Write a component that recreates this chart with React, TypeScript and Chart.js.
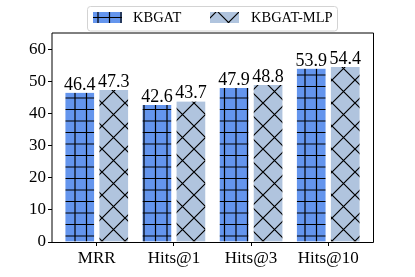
import { useEffect, useRef } from 'react';
import { Chart, registerables } from 'chart.js';

Chart.register(...registerables);

const categories = ['MRR', 'Hits@1', 'Hits@3', 'Hits@10'];
const kbgat = [46.4, 42.6, 47.9, 53.9];
const kbgatMlp = [47.3, 43.7, 48.8, 54.4];
const yTicks = [0, 10, 20, 30, 40, 50, 60];
const seriesNames = ['KBGAT', 'KBGAT-MLP'];
const seriesColors = ['#6495ED', '#B0C4DE'];

const FONT = '"Liberation Serif", "Times New Roman", serif';

function gridPattern(ctx: CanvasRenderingContext2D, base: string): CanvasPattern {
  const c = document.createElement('canvas');
  c.width = 23;
  c.height = 23;
  const g = c.getContext('2d')!;
  g.fillStyle = base;
  g.fillRect(0, 0, 23, 23);
  g.strokeStyle = '#000';
  g.lineWidth = 1.2;
  g.beginPath();
  for (const p of [2, 13.5]) {
    g.moveTo(p, 0);
    g.lineTo(p, 23);
    g.moveTo(0, p);
    g.lineTo(23, p);
  }
  g.stroke();
  const pat = ctx.createPattern(c, 'repeat')!;
  pat.setTransform(new DOMMatrix().translate(4, 4));
  return pat;
}

function crossPattern(ctx: CanvasRenderingContext2D, base: string): CanvasPattern {
  const c = document.createElement('canvas');
  c.width = 23;
  c.height = 23;
  const g = c.getContext('2d')!;
  g.fillStyle = base;
  g.fillRect(0, 0, 23, 23);
  g.strokeStyle = '#000';
  g.lineWidth = 1.2;
  g.beginPath();
  for (const k of [-23, 0, 23]) {
    g.moveTo(-2, -2 + k);
    g.lineTo(25, 25 + k);
    g.moveTo(-2, 25 + k);
    g.lineTo(25, -2 + k);
  }
  g.stroke();
  const pat = ctx.createPattern(c, 'repeat')!;
  pat.setTransform(new DOMMatrix().translate(10, 11));
  return pat;
}

export default function App() {
  const ref = useRef<HTMLCanvasElement | null>(null);

  useEffect(() => {
    const canvas = ref.current!;
    const ctx = canvas.getContext('2d')!;
    const patterns = [gridPattern(ctx, seriesColors[0]), crossPattern(ctx, seriesColors[1])];

    const labelPlugin = {
      id: 'valueLabels',
      afterDatasetsDraw(chart: any) {
        const c = chart.ctx;
        c.save();
        c.font = `18px ${FONT}`;
        c.fillStyle = '#000';
        c.textAlign = 'center';
        c.textBaseline = 'alphabetic';
        chart.data.datasets.forEach((ds: any, di: number) => {
          const meta = chart.getDatasetMeta(di);
          meta.data.forEach((el: any, i: number) => {
            c.fillText(ds.data[i].y.toFixed(1), el.x, el.y - 3);
          });
        });
        c.restore();
      },
    };

    const framePlugin = {
      id: 'frameAndLegend',
      afterDraw(chart: any) {
        const c = chart.ctx;
        const a = chart.chartArea;
        c.save();
        c.strokeStyle = '#000';
        c.lineWidth = 1;
        c.beginPath();
        c.moveTo(a.left, a.bottom + 0.5);
        c.lineTo(a.left, a.top);
        c.lineTo(a.right + 0.5, a.top);
        c.lineTo(a.right + 0.5, a.bottom + 0.5);
        c.lineTo(a.left, a.bottom + 0.5);
        c.stroke();

        // legend
        c.beginPath();
        c.roundRect(87.5, 6.5, 250, 24.5, 3);
        c.fillStyle = 'rgba(255,255,255,0.8)';
        c.fill();
        c.strokeStyle = '#d3d3d3';
        c.stroke();
        const sw = [
          { x: 93, tx: 133 },
          { x: 210, tx: 251 },
        ];
        c.font = `14.5px ${FONT}`;
        c.textBaseline = 'middle';
        c.textAlign = 'left';
        sw.forEach((s, i) => {
          c.fillStyle = patterns[i];
          c.fillRect(s.x, 12, 29, 11);
          c.fillStyle = '#000';
          c.fillText(seriesNames[i], s.tx, 18);
        });
        c.restore();
      },
    };

    const chart = new Chart(canvas, {
      type: 'bar',
      data: {
        datasets: [kbgat, kbgatMlp].map((vals, di) => ({
          label: seriesNames[di],
          data: vals.map((v, i) => ({ x: i, y: v })),
          backgroundColor: patterns[di],
          borderColor: '#ffffff',
          borderWidth: { left: 3, right: 3, top: 0, bottom: 0 },
          borderSkipped: false,
          barThickness: 34,
        })),
      },
      options: {
        animation: false,
        responsive: false,
        layout: { padding: { left: 0, right: 42, top: 33, bottom: 0 } },
        plugins: {
          legend: { display: false },
          tooltip: { enabled: false },
        },
        scales: {
          x: {
            type: 'linear',
            min: -0.58,
            max: 3.58,
            offset: false,
            afterBuildTicks: (s: any) => {
              s.ticks = categories.map((_, i) => ({ value: i }));
            },
            afterFit: (s: any) => {
              s.height = 35;
            },
            ticks: {
              autoSkip: false,
              maxRotation: 0,
              padding: 2,
              color: '#000',
              font: { family: FONT, size: 17 },
              callback: (v: any) => categories[v] ?? '',
            },
            grid: {
              drawOnChartArea: false,
              drawTicks: true,
              tickLength: 4,
              tickColor: '#000',
              offset: false,
            },
            border: { display: false },
          },
          y: {
            min: 0,
            max: 65,
            afterBuildTicks: (s: any) => {
              s.ticks = yTicks.map((v) => ({ value: v }));
            },
            afterFit: (s: any) => {
              s.width = 52;
            },
            ticks: {
              padding: 2,
              color: '#000',
              font: { family: FONT, size: 17 },
            },
            grid: {
              drawOnChartArea: false,
              drawTicks: true,
              tickLength: 4,
              tickColor: '#000',
            },
            border: { display: false },
          },
        },
      },
      plugins: [labelPlugin, framePlugin],
    });
    return () => chart.destroy();
  }, []);

  return (
    <div style={{ position: 'fixed', left: 0, top: 0, width: 415, height: 277 }}>
      <canvas ref={ref} width={415} height={277} style={{ display: 'block' }} />
    </div>
  );
}
